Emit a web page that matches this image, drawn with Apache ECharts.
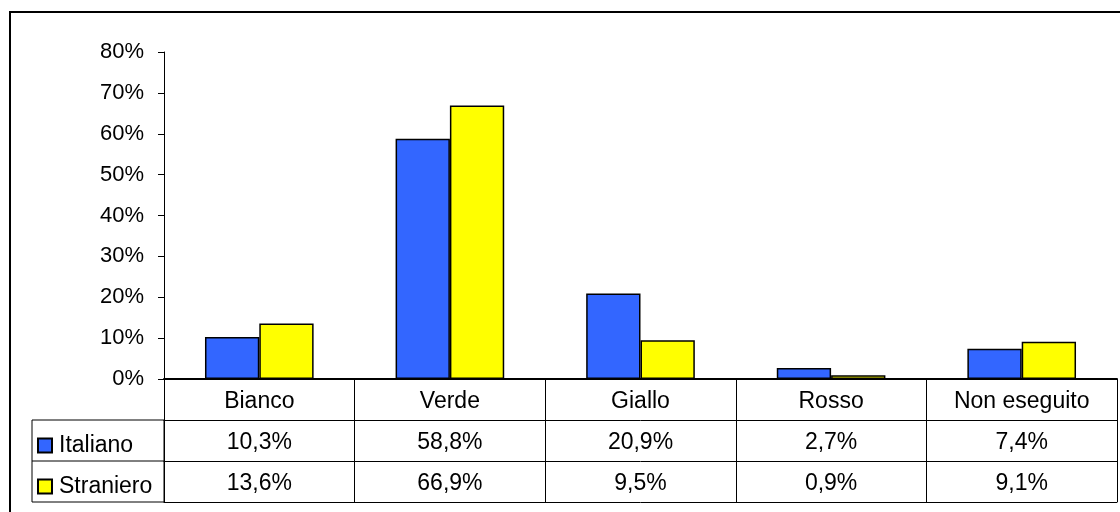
<!DOCTYPE html>
<html>
<head>
<meta charset="utf-8">
<script src="https://cdn.jsdelivr.net/npm/echarts@6/dist/echarts.min.js"></script>
<style>
  html, body { margin: 0; padding: 0; background: #fff; }
  #main { width: 1120px; height: 512px; }
</style>
</head>
<body>
<div id="main"></div>
<script>
var categories = ['Bianco', 'Verde', 'Giallo', 'Rosso', 'Non eseguito'];
var italiano = [10.3, 58.8, 20.9, 2.7, 7.4];
var straniero = [13.6, 66.9, 9.5, 0.9, 9.1];
var seriesNames = ['Italiano', 'Straniero'];
var colors = ['#3366ff', '#ffff00'];

function fmt(v) {
    return v.toFixed(1).replace('.', ',') + '%';
}

var font = 'Liberation Sans, Arial, sans-serif';
var fs = 23;

var myChart = echarts.init(document.getElementById('main'));

var rowAxis = function (data, offset, showLabel) {
    return {
        type: 'category',
        data: data,
        position: 'bottom',
        offset: offset,
        axisLine: { show: true, lineStyle: { color: '#000', width: 1 } },
        axisTick: { show: false },
        axisLabel: { show: showLabel, interval: 0, margin: 11, color: '#000', fontSize: fs, fontFamily: font }
    };
};

var legendItem = function (name, top) {
    return {
        data: [name], orient: 'vertical', left: 32, top: top,
        icon: 'rect', itemWidth: 14, itemHeight: 14, itemGap: 0,
        textStyle: { color: '#000', fontSize: fs, fontFamily: font, padding: [0, 0, 0, 2] },
        selectedMode: false
    };
};

var option = {
    animation: false,
    color: colors,
    grid: { left: 164, right: 3, top: 52, bottom: 133, containLabel: false },
    legend: [
        legendItem(seriesNames[0], 429),
        legendItem(seriesNames[1], 470)
    ],
    xAxis: [
        {
            type: 'category',
            data: categories,
            axisLine: { show: true, lineStyle: { color: '#000', width: 2 } },
            axisTick: { show: true, interval: 0, alignWithLabel: false, length: 123, lineStyle: { color: '#000', width: 1 } },
            axisLabel: { interval: 0, margin: 11, color: '#000', fontSize: fs, fontFamily: font }
        },
        rowAxis(italiano.map(fmt), 41, true),
        rowAxis(straniero.map(fmt), 82, true),
        rowAxis(categories, 123, false)
    ],
    yAxis: {
        type: 'value',
        min: 0,
        max: 80,
        interval: 10,
        axisLine: { show: true, lineStyle: { color: '#000', width: 1 } },
        axisTick: { show: true, length: 6, lineStyle: { color: '#000' } },
        splitLine: { show: false },
        axisLabel: { margin: 20, color: '#000', fontSize: 22, fontFamily: font, formatter: '{value}%' }
    },
    graphic: [
        {
            type: 'rect', z: -1,
            shape: { x: 10, y: 12, width: 1200, height: 600 },
            style: { fill: 'none', stroke: '#000', lineWidth: 2 }
        },
        {
            type: 'rect',
            shape: { x: 32, y: 420, width: 132, height: 82 },
            style: { fill: 'none', stroke: '#000', lineWidth: 1 }
        },
        {
            type: 'line',
            shape: { x1: 32, y1: 461, x2: 164, y2: 461 },
            style: { stroke: '#000', lineWidth: 1 }
        }
    ],
    series: [
        {
            name: seriesNames[0], type: 'bar', data: italiano,
            barCategoryGap: '43%', barGap: '0%',
            itemStyle: { borderColor: '#000', borderWidth: 1.5 }
        },
        {
            name: seriesNames[1], type: 'bar', data: straniero,
            barCategoryGap: '43%', barGap: '0%',
            itemStyle: { borderColor: '#000', borderWidth: 1.5 }
        }
    ]
};

myChart.setOption(option);
</script>
</body>
</html>
